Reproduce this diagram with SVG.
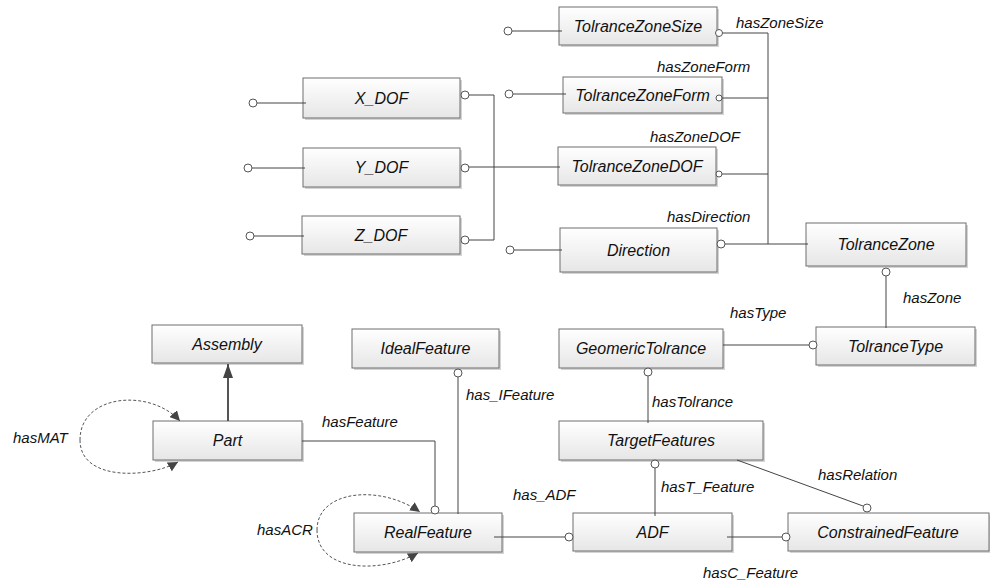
<svg xmlns="http://www.w3.org/2000/svg" width="992" height="582" viewBox="0 0 992 582">
<defs>
<linearGradient id="g" x1="0" y1="0" x2="0" y2="1">
<stop offset="0" stop-color="#ffffff"/>
<stop offset="1" stop-color="#e6e6e6"/>
</linearGradient>
<marker id="arr" viewBox="0 0 10 10" refX="10" refY="5" markerWidth="10" markerHeight="10" markerUnits="userSpaceOnUse" orient="auto">
<path d="M0,0 L10,5 L0,10 Z" fill="#444"/>
</marker>
<marker id="arrBig" viewBox="0 0 14 10" refX="14" refY="5" markerWidth="14" markerHeight="10" markerUnits="userSpaceOnUse" orient="auto">
<path d="M0,0 L14,5 L0,10 Z" fill="#444"/>
</marker>
</defs>
<style>
.box{fill:url(#g);stroke:#6e6e6e;stroke-width:1}
.sh{fill:#d4d4d4}
.nt{font-family:"Liberation Sans",Arial,sans-serif;font-style:italic;font-size:16px;fill:#111;text-anchor:middle}
.lb{font-family:"Liberation Sans",Arial,sans-serif;font-style:italic;font-size:15px;fill:#111}
.ln{fill:none;stroke:#444;stroke-width:1}
.ds{fill:none;stroke:#555;stroke-width:1;stroke-dasharray:3,2}
.ci{fill:#fff;stroke:#555;stroke-width:1}
</style>
<rect width="992" height="582" fill="#fff"/>

<g id="TolranceZoneSize"><rect class="sh" x="561" y="9" width="158" height="38"/><rect class="box" x="559" y="7" width="158" height="38"/><text class="nt" x="638" y="32">TolranceZoneSize</text></g>
<g id="TolranceZoneForm"><rect class="sh" x="565" y="79" width="159" height="36"/><rect class="box" x="563" y="77" width="159" height="36"/><text class="nt" x="642.5" y="101">TolranceZoneForm</text></g>
<g id="TolranceZoneDOF"><rect class="sh" x="560" y="149" width="158" height="38"/><rect class="box" x="558" y="147" width="158" height="38"/><text class="nt" x="637" y="172">TolranceZoneDOF</text></g>
<g id="Direction"><rect class="sh" x="562" y="230" width="157" height="44"/><rect class="box" x="560" y="228" width="157" height="44"/><text class="nt" x="638.5" y="256">Direction</text></g>
<g id="TolranceZone"><rect class="sh" x="808" y="225" width="160" height="43"/><rect class="box" x="806" y="223" width="160" height="43"/><text class="nt" x="886" y="250">TolranceZone</text></g>
<g id="X_DOF"><rect class="sh" x="305" y="80" width="157" height="40"/><rect class="box" x="303" y="78" width="157" height="40"/><text class="nt" x="381.5" y="104">X_DOF</text></g>
<g id="Y_DOF"><rect class="sh" x="305" y="150" width="157" height="39"/><rect class="box" x="303" y="148" width="157" height="39"/><text class="nt" x="381.5" y="173">Y_DOF</text></g>
<g id="Z_DOF"><rect class="sh" x="304" y="218" width="158" height="38"/><rect class="box" x="302" y="216" width="158" height="38"/><text class="nt" x="381" y="241">Z_DOF</text></g>
<g id="Assembly"><rect class="sh" x="154" y="327" width="150" height="38"/><rect class="box" x="152" y="325" width="150" height="38"/><text class="nt" x="227" y="350">Assembly</text></g>
<g id="IdealFeature"><rect class="sh" x="354" y="331" width="147" height="39"/><rect class="box" x="352" y="329" width="147" height="39"/><text class="nt" x="425.5" y="354">IdealFeature</text></g>
<g id="GeomericTolrance"><rect class="sh" x="561" y="331" width="164" height="39"/><rect class="box" x="559" y="329" width="164" height="39"/><text class="nt" x="641" y="354">GeomericTolrance</text></g>
<g id="TolranceType"><rect class="sh" x="818" y="329" width="159" height="38"/><rect class="box" x="816" y="327" width="159" height="38"/><text class="nt" x="895.5" y="352">TolranceType</text></g>
<g id="Part"><rect class="sh" x="155" y="423" width="149" height="39"/><rect class="box" x="153" y="421" width="149" height="39"/><text class="nt" x="227.5" y="446">Part</text></g>
<g id="TargetFeatures"><rect class="sh" x="561" y="423" width="204" height="39"/><rect class="box" x="559" y="421" width="204" height="39"/><text class="nt" x="661" y="446">TargetFeatures</text></g>
<g id="RealFeature"><rect class="sh" x="356" y="515" width="148" height="39"/><rect class="box" x="354" y="513" width="148" height="39"/><text class="nt" x="428" y="538">RealFeature</text></g>
<g id="ADF"><rect class="sh" x="575" y="515" width="159" height="38"/><rect class="box" x="573" y="513" width="159" height="38"/><text class="nt" x="652.5" y="538">ADF</text></g>
<g id="ConstrainedFeature"><rect class="sh" x="790" y="515" width="200" height="38"/><rect class="box" x="788" y="513" width="201" height="38"/><text class="nt" x="888" y="538">ConstrainedFeature</text></g>

<g id="connectors">
<line class="ln" x1="512" y1="31" x2="562" y2="31"/><circle class="ci" cx="508" cy="31" r="4"/>
<line class="ln" x1="722" y1="33" x2="768" y2="33"/><circle class="ci" cx="719" cy="33" r="3.5"/>
<line class="ln" x1="513" y1="94" x2="566" y2="94"/><circle class="ci" cx="509" cy="94" r="4"/>
<line class="ln" x1="722" y1="98" x2="768" y2="98"/><circle class="ci" cx="719" cy="98" r="3"/>
<line class="ln" x1="722" y1="174" x2="768" y2="174"/><circle class="ci" cx="719" cy="174" r="3"/>
<line class="ln" x1="725" y1="244" x2="808" y2="244"/><circle class="ci" cx="721" cy="244" r="4"/>
<line class="ln" x1="768" y1="33" x2="768" y2="244"/>
<line class="ln" x1="514" y1="250" x2="562" y2="250"/><circle class="ci" cx="510" cy="250" r="4"/>
<line class="ln" x1="257" y1="103" x2="306" y2="103"/><circle class="ci" cx="253" cy="103" r="4"/>
<line class="ln" x1="252" y1="168" x2="305" y2="168"/><circle class="ci" cx="248" cy="168" r="4"/>
<line class="ln" x1="254" y1="236" x2="304" y2="236"/><circle class="ci" cx="250" cy="236" r="4"/>
<polyline class="ln" points="469,95 494,95 494,240 469,240"/>
<circle class="ci" cx="465" cy="95" r="4"/><circle class="ci" cx="465" cy="240" r="4"/>
<line class="ln" x1="469" y1="167" x2="560" y2="167"/><circle class="ci" cx="465" cy="168" r="4"/>
<line class="ln" x1="886" y1="276" x2="886" y2="328"/><circle class="ci" cx="886" cy="272" r="4"/>
<line class="ln" x1="723" y1="345" x2="809" y2="345"/><circle class="ci" cx="813" cy="345" r="4"/>
<line class="ln" x1="648" y1="376" x2="648" y2="423"/><circle class="ci" cx="648" cy="372" r="4"/>
<line class="ln" x1="655" y1="468" x2="655" y2="516"/><circle class="ci" cx="655" cy="464" r="4"/>
<line class="ln" x1="737" y1="460" x2="863" y2="506"/><circle class="ci" cx="867" cy="508" r="4"/>
<line class="ln" x1="727" y1="537" x2="782" y2="537"/><circle class="ci" cx="786" cy="537" r="4"/>
<line class="ln" x1="494" y1="537" x2="565" y2="537"/><circle class="ci" cx="569" cy="537" r="4"/>
<line class="ln" x1="458" y1="377" x2="458" y2="514"/><circle class="ci" cx="458" cy="373" r="4"/>
<polyline class="ln" points="302,441 435,441 435,506"/><circle class="ci" cx="435" cy="510" r="4"/>
<line x1="228" y1="421" x2="228" y2="364" stroke="#555" stroke-width="2" marker-end="url(#arrBig)"/>
<path class="ds" d="M80,440 C80,394 150,388 180,421" marker-end="url(#arr)"/>
<path class="ds" d="M80,440 C80,482 150,478 178,462" marker-end="url(#arr)"/>
<path class="ds" d="M317,530 C317,490 380,484 420,512" marker-end="url(#arr)"/>
<path class="ds" d="M317,530 C317,572 380,574 418,553" marker-end="url(#arr)"/>
</g>

<g id="labels">
<text class="lb" x="736" y="28">hasZoneSize</text>
<text class="lb" x="657" y="72">hasZoneForm</text>
<text class="lb" x="650" y="142">hasZoneDOF</text>
<text class="lb" x="667" y="222">hasDirection</text>
<text class="lb" x="903" y="303">hasZone</text>
<text class="lb" x="730" y="318">hasType</text>
<text class="lb" x="466" y="400">has_IFeature</text>
<text class="lb" x="652" y="407">hasTolrance</text>
<text class="lb" x="322" y="427">hasFeature</text>
<text class="lb" x="13" y="443">hasMAT</text>
<text class="lb" x="818" y="480">hasRelation</text>
<text class="lb" x="661" y="492">hasT_Feature</text>
<text class="lb" x="513" y="500">has_ADF</text>
<text class="lb" x="257" y="535">hasACR</text>
<text class="lb" x="703" y="578">hasC_Feature</text>
</g>
</svg>
